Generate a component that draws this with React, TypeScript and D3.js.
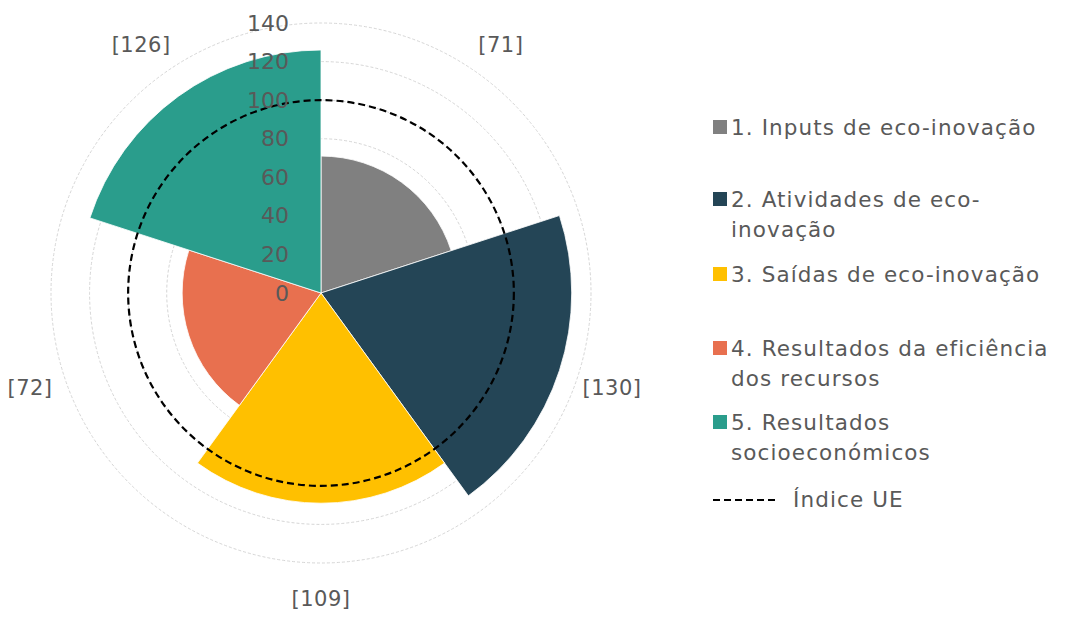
import * as d3 from "d3";

const categories = [
  ["1. Inputs de eco-inovação"],
  ["2. Atividades de eco-", "inovação"],
  ["3. Saídas de eco-inovação"],
  ["4. Resultados da eficiência", "dos recursos"],
  ["5. Resultados", "socioeconómicos"],
];
const values = [71, 130, 109, 72, 126];
const colors = ["#808080", "#244556", "#FFC000", "#E8704F", "#2A9D8C"];
const euIndex = 100;
const radialTicks = [0, 20, 40, 60, 80, 100, 120, 140];
const legendRowY = [127, 199, 274, 348, 422];

const cx = 321;
const cy = 293;
const font = "'DejaVu Sans', Verdana, sans-serif";

export default function App() {
  const r = d3.scaleLinear().domain([0, 140]).range([0, 270]);
  const step = (2 * Math.PI) / values.length;
  const arc = d3.arc<number>()
    .innerRadius(0)
    .outerRadius((d) => r(d))
    .startAngle((_, i) => i * step)
    .endAngle((_, i) => (i + 1) * step);

  return (
    <svg
      width={1082}
      height={619}
      style={{ position: "fixed", left: 0, top: 0, display: "block", background: "#fff" }}
    >
      <g transform={`translate(${cx},${cy})`}>
        {radialTicks.slice(1).map((t) => (
          <circle key={t} r={r(t)} fill="none" stroke="#d6d6d6" strokeWidth={1} strokeDasharray="3,2" />
        ))}
        {values.map((v, i) => (
          <path key={i} d={arc(v, i) || ""} fill={colors[i]} stroke="#fff" strokeWidth={0.8} />
        ))}
        <circle r={r(euIndex)} fill="none" stroke="#000" strokeWidth={2.2} strokeDasharray="7,4" />
        {radialTicks.map((t) => (
          <text
            key={t}
            x={-32}
            y={-r(t)}
            textAnchor="end"
            dominantBaseline="central"
            fontFamily={font}
            fontSize={22}
            fill="#595959"
          >
            {t}
          </text>
        ))}
        {values.map((v, i) => {
          const a = (i + 0.5) * step;
          const rr = 306;
          return (
            <text
              key={i}
              x={rr * Math.sin(a)}
              y={-rr * Math.cos(a)}
              textAnchor="middle"
              dominantBaseline="central"
              fontFamily={font}
              fontSize={21}
              letterSpacing={0.5}
              fill="#595959"
            >
              [{v}]
            </text>
          );
        })}
      </g>
      <g fontFamily={font} fontSize={21.5} letterSpacing={1.1} fill="#595959">
        {categories.map((lines, i) => (
          <g key={i}>
            <rect x={713} y={legendRowY[i] - 7} width={14} height={14} fill={colors[i]} />
            {lines.map((line, j) => (
              <text key={j} x={731} y={legendRowY[i] + j * 30} dominantBaseline="central">
                {line}
              </text>
            ))}
          </g>
        ))}
        <line x1={713} x2={776} y1={500} y2={500} stroke="#000" strokeWidth={2.2} strokeDasharray="7,4" />
        <text x={793} y={499} dominantBaseline="central">
          Índice UE
        </text>
      </g>
    </svg>
  );
}
